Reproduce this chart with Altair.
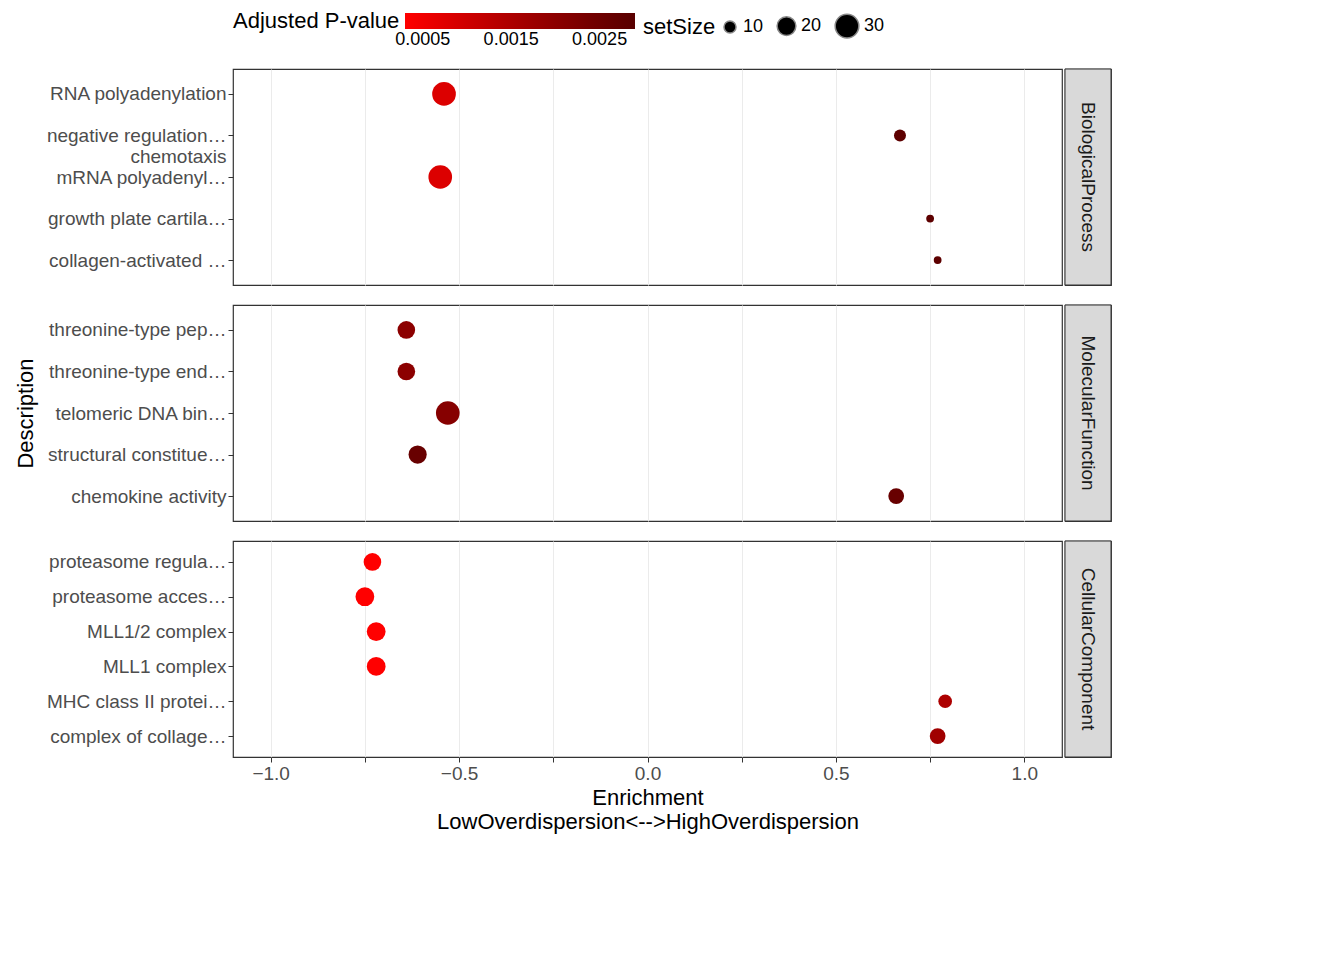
import pandas as pd
import altair as alt

# data
bp_terms = ["RNA polyadenylation", "negative regulation of leukocyte|chemotaxis",
            "mRNA polyadenylation", "growth plate cartilage morphogenesis",
            "collagen-activated signaling pathway"]
bp_enrich = [-0.54, 0.67, -0.55, 0.75, 0.77]
bp_size = [30, 10, 30, 6, 6]
bp_p = [0.0008, 0.0028, 0.0008, 0.0028, 0.0028]

mf_terms = ["threonine-type peptidase activity", "threonine-type endopeptidase activity",
            "telomeric DNA binding", "structural constituent of nuclear pore",
            "chemokine activity"]
mf_enrich = [-0.64, -0.64, -0.53, -0.61, 0.66]
mf_size = [18, 18, 30, 19, 15]
mf_p = [0.0020, 0.0020, 0.0021, 0.0026, 0.0026]

cc_terms = ["proteasome regulatory particle", "proteasome accessory complex",
            "MLL1/2 complex", "MLL1 complex", "MHC class II protein complex",
            "complex of collagen trimers"]
cc_enrich = [-0.73, -0.75, -0.72, -0.72, 0.79, 0.77]
cc_size = [18, 20, 20, 20, 12, 15]
cc_p = [0.0003, 0.0003, 0.0003, 0.0003, 0.0015, 0.0017]

panels = [("BiologicalProcess", bp_terms, bp_enrich, bp_size, bp_p),
          ("MolecularFunction", mf_terms, mf_enrich, mf_size, mf_p),
          ("CellularComponent", cc_terms, cc_enrich, cc_size, cc_p)]

W, H = 829, 216
rows = []
for i, (name, terms, enr, sz, p) in enumerate(panels):
    df = pd.DataFrame({"Description": terms, "Enrichment": enr, "setSize": sz, "p": p})
    last = i == 2
    xaxis = alt.Axis(values=[-1, -0.75, -0.5, -0.25, 0, 0.25, 0.5, 0.75, 1],
                     labelExpr="abs(datum.value*2 - round(datum.value*2)) < 0.01 ? format(datum.value, '.1f') : ''",
                     labels=last, ticks=last, title=["Enrichment", "LowOverdispersion<-->HighOverdispersion"] if last else None,
                     gridColor="#ebebeb", tickColor="#333", domain=False)
    pts = alt.Chart(df).mark_circle(opacity=1).encode(
        x=alt.X("Enrichment:Q", scale=alt.Scale(domain=[-1.1, 1.1], nice=False, zero=False), axis=xaxis),
        y=alt.Y("Description:N", sort=terms, scale=alt.Scale(padding=0.6),
                axis=alt.Axis(title="Description" if i == 1 else None, labelExpr="split(datum.label, '|')",
                              gridColor="#ebebeb", tickColor="#333", domain=False, titlePadding=10)),
        size=alt.Size("setSize:Q", scale=alt.Scale(domain=[5, 30], range=[40, 560]),
                      legend=alt.Legend(values=[10, 20, 30], direction="horizontal", orient="top", symbolFillColor="black")),
        color=alt.Color("p:Q", title="Adjusted P-value",
                        scale=alt.Scale(domain=[0.0003, 0.0029], range=["#ff0000", "#000000"]),
                        legend=alt.Legend(direction="horizontal", orient="top", gradientLength=230,
                                          values=[0.0005, 0.001, 0.0015, 0.002, 0.0025], format=".4f")),
    ).properties(width=W, height=H)
    strip = alt.Chart(pd.DataFrame({"name": [name]})).mark_rect(
        color="#d9d9d9", stroke="#333").encode(
        x=alt.value(0), x2=alt.value(46), y=alt.value(0), y2=alt.value(H))
    stext = alt.Chart(pd.DataFrame({"name": [name]})).mark_text(
        angle=90, fontSize=19, color="#1a1a1a").encode(
        x=alt.value(23), y=alt.value(H / 2), text="name:N")
    side = (strip + stext).properties(width=46, height=H)
    rows.append(alt.hconcat(pts, side, spacing=0))

chart = alt.vconcat(*rows, spacing=16).resolve_scale(size="shared", color="shared").configure_view(
    stroke="#333", strokeWidth=1.2
).configure_axis(
    labelFontSize=19, titleFontSize=22, labelColor="#4d4d4d", titleColor="black",
    titleFontWeight="normal", labelFont="Liberation Sans", titleFont="Liberation Sans"
).configure_legend(
    titleFontSize=22, labelFontSize=18, titleFontWeight="normal", orient="top",
    titleOrient="left", labelFont="Liberation Sans", titleFont="Liberation Sans"
).configure_concat(spacing=0)

chart.save("out.html", embed_options={"renderer": "svg", "actions": False})
